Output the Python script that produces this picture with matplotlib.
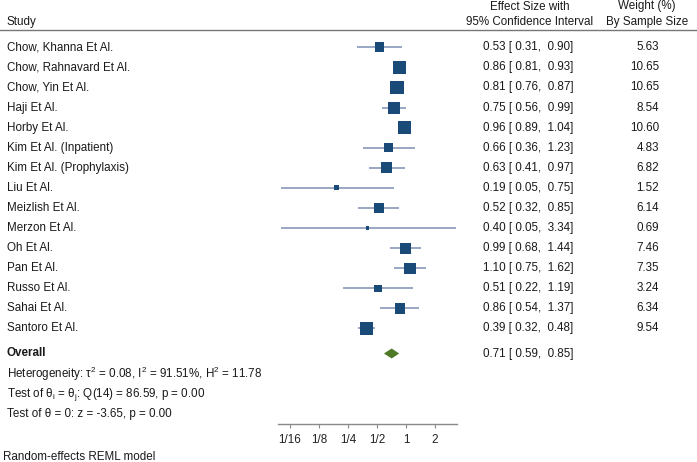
import matplotlib
matplotlib.use("Agg")
import matplotlib.pyplot as plt
from matplotlib.lines import Line2D
from matplotlib.transforms import blended_transform_factory
import numpy as np

plt.rcParams['font.family'] = ['Liberation Sans', 'DejaVu Sans']
plt.rcParams['mathtext.fontset'] = 'custom'
plt.rcParams['mathtext.rm'] = 'Liberation Sans'
plt.rcParams['mathtext.it'] = 'Liberation Sans:italic'
plt.rcParams['mathtext.bf'] = 'Liberation Sans:bold'

studies = ["Chow, Khanna Et Al.", "Chow, Rahnavard Et Al.", "Chow, Yin Et Al.",
           "Haji Et Al.", "Horby Et Al.", "Kim Et Al. (Inpatient)",
           "Kim Et Al. (Prophylaxis)", "Liu Et Al.", "Meizlish Et Al.",
           "Merzon Et Al.", "Oh Et Al.", "Pan Et Al.", "Russo Et Al.",
           "Sahai Et Al.", "Santoro Et Al."]
es = [0.53, 0.86, 0.81, 0.75, 0.96, 0.66, 0.63, 0.19, 0.52, 0.40, 0.99, 1.10, 0.51, 0.86, 0.39]
lo = [0.31, 0.81, 0.76, 0.56, 0.89, 0.36, 0.41, 0.05, 0.32, 0.05, 0.68, 0.75, 0.22, 0.54, 0.32]
hi = [0.90, 0.93, 0.87, 0.99, 1.04, 1.23, 0.97, 0.75, 0.85, 3.34, 1.44, 1.62, 1.19, 1.37, 0.48]
weights = [5.63, 10.65, 10.65, 8.54, 10.60, 4.83, 6.82, 1.52, 6.14, 0.69, 7.46, 7.35, 3.24, 6.34, 9.54]
overall_es, overall_lo, overall_hi = 0.71, 0.59, 0.85
het_text = "Heterogeneity: τ$^\\mathrm{2}$ = 0.08, I$^\\mathrm{2}$ = 91.51%, H$^\\mathrm{2}$ = 11.78"
q_text = "Test of θ$_\\mathrm{i}$ = θ$_\\mathrm{j}$: Q(14) = 86.59, p = 0.00"
z_text = "Test of θ = 0: z = -3.65, p = 0.00"
tick_vals = [1/16, 1/8, 1/4, 1/2, 1, 2]
tick_labels = ["1/16", "1/8", "1/4", "1/2", "1", "2"]

W, H = 697, 462
fig = plt.figure(figsize=(W/100, H/100), dpi=100)

# axes geometry in pixels
ax_l, ax_r, ax_top, ax_bot = 278, 457, 0, 424
ax = fig.add_axes([ax_l/W, 1 - ax_bot/H, (ax_r-ax_l)/W, (ax_bot-ax_top)/H])
ax.set_xscale('log', base=2)
px_per_doubling = 29.0
one_px = 406
ax.set_xlim(2 ** ((ax_l - one_px)/px_per_doubling), 2 ** ((ax_r - one_px)/px_per_doubling))
row0_px, row_px = 47.3, 20.08
ax.set_ylim((ax_bot - row0_px)/row_px, (ax_top - row0_px)/row_px)

for s in ['top', 'left', 'right']:
    ax.spines[s].set_visible(False)
ax.spines['bottom'].set_color('#8a8a8a')
ax.spines['bottom'].set_linewidth(1.0)
ax.set_yticks([])
ax.set_xticks(tick_vals)
ax.set_xticklabels(tick_labels)
ax.xaxis.set_minor_locator(matplotlib.ticker.NullLocator())
ax.tick_params(axis='x', direction='out', length=3, width=0.8, color='#8a8a8a',
               labelsize=8.4, labelcolor='#222222', pad=4)

n = len(studies)
ys = np.arange(n)
navy = '#1a4a78'
ax.hlines(ys, lo, hi, color='#7d8fb3', linewidth=1.1, zorder=2, clip_on=False)
sizes_pt = 4.1 * np.sqrt(np.array(weights)) * 0.72
ax.scatter(es, ys, marker='s', s=sizes_pt**2, color=navy, linewidths=0, zorder=3, clip_on=False)

# overall diamond
oy = (353.5 - row0_px)/row_px
dh = 5.0/row_px
ax.fill([overall_lo, overall_es, overall_hi, overall_es],
        [oy, oy - dh, oy, oy + dh], color='#4e7a27', lw=0, zorder=3, clip_on=False)

# text
tr_fig_data = blended_transform_factory(fig.transFigure, ax.transData)
fs = 8.4
tc = '#1a1a1a'
x_study = 7/W
x_es = 483/W
x_w = 659/W
for i in range(n):
    fig.text(x_study, i, studies[i], transform=tr_fig_data, fontsize=fs, color=tc, va='center', ha='left')
    fig.text(x_es, i, f"{es[i]:.2f} [ {lo[i]:.2f},  {hi[i]:.2f}]", transform=tr_fig_data,
             fontsize=fs, color=tc, va='center', ha='left')
    fig.text(x_w, i, f"{weights[i]:.2f}", transform=tr_fig_data, fontsize=fs, color=tc,
             va='center', ha='right')

fig.text(x_study, oy, "Overall", transform=tr_fig_data, fontsize=fs, color=tc,
         va='center', ha='left', fontweight='bold')
fig.text(x_es, oy, f"{overall_es:.2f} [ {overall_lo:.2f},  {overall_hi:.2f}]",
         transform=tr_fig_data, fontsize=fs, color=tc, va='center', ha='left')
for ypx, t in zip([374, 394.5, 414.5], [het_text, q_text, z_text]):
    fig.text(x_study, (ypx - row0_px)/row_px, t, transform=tr_fig_data, fontsize=fs,
             color=tc, va='center', ha='left')

# header
fig.text(7/W, 1 - 22/H, "Study", fontsize=fs, color=tc, va='center', ha='left')
fig.text(530/W, 1 - 6.5/H, "Effect Size with", fontsize=fs, color=tc, va='center', ha='center')
fig.text(530/W, 1 - 22/H, "95% Confidence Interval", fontsize=fs, color=tc, va='center', ha='center')
fig.text(647/W, 1 - 6.5/H, "Weight (%)", fontsize=fs, color=tc, va='center', ha='center')
fig.text(647/W, 1 - 22/H, "By Sample Size", fontsize=fs, color=tc, va='center', ha='center')
fig.add_artist(Line2D([0, 1], [1 - 30/H, 1 - 30/H], transform=fig.transFigure,
                      color='#777777', linewidth=1.0))

fig.text(3/W, 1 - 457/H, "Random-effects REML model", fontsize=fs, color=tc, va='center', ha='left')

fig.savefig("out.png", dpi=100)
